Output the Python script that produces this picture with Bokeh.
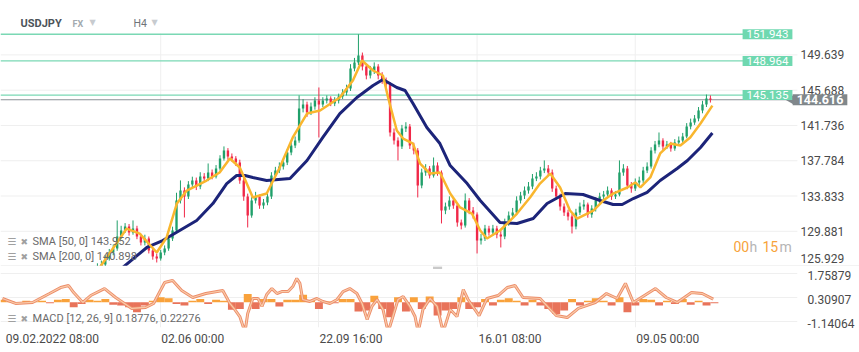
from bokeh.plotting import figure
from bokeh.layouts import column
from bokeh.models import Range1d, FixedTicker, Label, Span
from bokeh.embed import file_html
from bokeh.resources import INLINE
from bokeh.core.properties import value
import numpy as np

FONT = "Roboto"
W = 859

# ---------------- data ----------------
first_open = 125.20
closes = [125.50,125.95,126.17,126.84,127.51,127.96,129.31,129.98,130.43,129.76,
          130.20,129.31,128.63,129.08,127.74,127.07,126.84,127.51,127.96,129.08,
          129.98,133.34,134.46,133.79,135.13,135.58,134.91,136.02,135.80,136.47,
          136.02,136.92,138.04,138.94,138.26,138.04,137.59,135.58,133.79,131.66,
          133.34,133.79,132.78,133.11,133.79,136.14,136.70,137.14,137.59,138.71,
          139.50,140.06,143.64,144.09,143.19,143.86,144.54,144.09,144.54,144.76,
          144.20,144.54,144.98,145.43,145.88,148.12,148.79,149.58,148.34,147.33,
          147.90,148.34,147.33,146.77,146.33,140.95,140.06,139.39,141.40,141.62,
          139.50,138.94,135.02,136.47,136.92,136.14,137.26,136.47,132.22,132.66,
          133.34,132.78,130.87,130.54,133.34,132.22,131.77,128.86,129.08,130.20,
          129.76,130.20,129.53,129.31,130.87,131.66,131.99,133.34,133.90,134.46,
          134.91,135.80,136.02,136.70,136.92,136.47,134.68,133.79,132.66,131.99,
          131.54,130.43,131.99,132.66,132.89,131.77,132.44,133.34,133.79,134.01,
          134.46,133.79,134.01,136.47,136.92,135.02,134.68,135.35,135.58,136.70,
          137.14,138.94,139.61,140.06,139.39,139.61,139.16,139.83,140.06,140.50,
          141.62,142.07,142.52,143.42,144.09,144.76,144.616]
highs = [125.80,126.30,126.60,127.20,127.90,128.40,131.10,130.50,130.80,130.70,
         131.10,130.50,129.60,129.50,129.30,128.00,127.40,127.80,128.30,129.40,
         130.40,134.20,135.58,134.80,135.50,136.00,135.90,136.50,136.40,137.48,
         136.80,137.30,138.40,139.39,139.20,138.60,138.30,137.90,135.90,134.10,
         133.70,134.30,134.00,133.50,134.20,136.50,137.10,137.60,138.00,139.10,
         139.90,140.50,145.10,144.70,144.40,144.30,144.90,145.99,144.90,145.10,
         145.00,144.90,145.30,145.80,146.30,148.60,149.30,151.94,149.90,148.70,
         148.40,148.80,148.60,147.70,147.10,146.60,141.40,140.40,141.80,142.10,
         141.90,139.80,139.20,136.90,137.40,137.20,138.15,137.60,136.70,133.10,
         133.80,133.70,133.00,131.20,134.12,133.60,132.60,132.00,129.60,130.60,
         130.50,130.60,130.50,129.90,131.30,132.10,132.50,133.80,134.30,134.90,
         135.40,136.30,136.50,137.10,137.82,137.30,136.80,135.00,134.10,133.00,
         132.30,131.80,132.40,133.10,133.40,133.10,132.80,133.70,134.20,134.40,
         134.90,134.70,134.40,137.82,137.40,137.20,135.40,135.80,136.00,137.10,
         137.60,139.30,140.00,140.95,140.30,140.00,139.90,140.20,140.50,140.90,
         142.00,142.50,142.90,143.80,144.50,145.20,145.10]
lows = [124.90,125.30,125.70,125.90,126.60,127.20,127.70,129.00,129.70,129.40,
        129.50,129.00,128.30,128.30,127.40,126.70,126.39,126.60,127.20,127.70,
        128.80,129.70,133.00,131.43,133.50,134.80,134.50,134.60,135.40,135.50,
        135.70,135.80,136.70,137.80,137.90,137.70,137.20,135.20,133.30,130.31,
        131.40,133.00,132.40,132.40,132.80,133.50,135.80,136.40,136.80,137.30,
        138.40,139.20,139.80,143.20,142.70,142.90,143.50,140.39,143.80,144.20,
        143.90,143.90,144.20,144.70,145.10,145.60,147.80,148.50,147.90,146.90,
        147.00,147.50,146.90,146.40,145.90,140.50,139.60,137.82,139.10,141.00,
        139.10,138.50,133.67,134.70,136.10,135.80,135.90,136.10,130.76,131.80,
        132.30,132.40,130.40,130.10,130.30,131.80,131.30,127.40,128.40,128.80,
        129.40,129.40,129.10,128.07,129.00,130.50,131.30,131.70,133.00,133.50,
        134.10,134.60,135.50,135.70,136.40,136.10,134.30,133.40,132.20,131.60,
        131.10,129.64,130.10,131.70,132.30,131.40,131.40,132.10,133.00,133.50,
        133.70,133.40,133.50,133.80,136.10,134.60,134.20,134.40,135.00,135.30,
        136.40,136.90,138.60,139.30,139.00,139.10,138.80,138.90,139.60,139.80,
        140.30,141.30,141.80,142.20,143.10,143.80,144.30]

sma50_bar = [24.6,31.4,34.7,39.0,41.5,44.1,46.6,51.6,54.9,57.5,
             60.0,63.3,66.8,70.1,73.4,77.0,80.3,85.3,88.6,90.9,
             93.7,96.2,97.5,99.7,101.3,103.8,105.6,108.1,110.6,113.2,
             115.7,118.7,120.8,122.5,125.8,127.6,130.1,133.4,135.9,138.5,
             141.0,143.5,145.3,149.4,151.9,154.4,158.0,160.0,161.3,163.8,
             166.3,168.9,171.4,173.9,176.5,179.5]
sma50_val = [125.83,130.19,129.63,127.51,129.19,133.00,134.45,135.57,136.47,138.03,
             137.03,133.67,134.11,137.03,140.39,143.07,143.41,144.87,146.77,149.01,
             147.89,147.33,144.87,141.17,140.27,139.71,137.47,136.35,136.47,134.11,
             132.55,131.87,129.97,129.07,129.97,130.75,131.87,133.67,135.23,136.35,
             134.79,132.21,131.31,132.21,133.33,134.11,134.79,135.35,134.79,135.91,
             138.60,139.71,139.49,140.39,141.95,143.952]
sma200_bar = [30.4,36.5,40.5,44.8,49.1,53.2,56.7,59.2,61.3,63.3,
              66.8,72.7,77.0,81.0,85.3,89.6,93.7,96.2,99.7,101.8,
              103.8,107.3,110.6,113.2,117.5,120.8,125.8,130.1,134.2,137.7,
              142.3,146.8,151.1,154.4,156.7,159.5,163.0,166.3,170.6,173.2,
              176.5,179.5]
sma200_val = [125.83,128.07,128.85,129.97,131.09,132.99,135.23,136.13,136.13,135.91,
              135.57,135.79,137.81,140.39,143.07,144.87,146.21,146.88,145.99,145.65,
              144.19,141.51,139.71,137.25,135.23,133.33,130.87,130.75,131.31,132.99,
              134.11,134.00,133.33,132.88,132.88,133.55,134.23,135.57,136.91,137.81,
              139.27,140.898]

macd_bar = [0,3.3,7.6,11.9,14.7,16.7,18.0,20.3,22.3,25.8,
            28.6,32.7,36.2,38.2,41.0,43.0,45.3,48.1,51.4,55.7,
            57.5,58.7,60.0,61.3,62.0,63.3,64.6,65.6,66.8,68.1,
            69.4,70.6,72.2,73.4,74.4,75.2,75.9,77.7,79.5,81.0,
            82.8,84.6,86.1,87.8,89.6,90.9,92.2,93.4,94.7,96.2,
            97.5,98.7,100.0,101.3,103.0,104.3,105.1,106.3,108.1,109.9,
            111.4,113.2,114.9,116.5,117.7,120.5,122.5,125.3,127.6,129.6,
            131.6,135.9,140.0,142.8,145.6,149.9,152.7,155.4,157.5,159.5,
            162.3,165.1,167.8,170.6,174.2,176.9,179.7]
macd_val = [0.23,-0.07,-0.01,0.53,0.89,1.01,0.59,-0.01,0.41,0.83,
            0.29,-0.37,-0.31,-0.07,1.20,1.32,0.71,0.29,0.53,0.71,
            -0.07,-0.43,-0.86,-1.80,-0.68,0.23,0.23,-0.25,0.47,0.83,
            0.53,0.65,0.65,0.95,1.44,1.14,0.17,0.05,0.23,0.05,
            -0.07,0.17,0.65,0.83,0.53,-0.07,-1.04,-0.25,0.17,-0.43,
            -1.80,-0.86,0.17,0.35,-0.25,-0.86,-1.80,-0.43,0.23,-0.25,
            -1.80,-0.43,-0.86,0.77,0.17,-0.80,0.23,0.41,0.89,1.01,
            0.29,0.23,-0.80,-0.92,-0.37,-0.01,0.53,0.23,1.14,-0.01,
            0.41,0.83,0.29,-0.01,0.59,0.53,0.18776]
hist_val = [0.15,0.05,-0.10,0.10,0.05,0.10,-0.05,0.15,0.20,-0.30,
            -0.10,0.15,0.10,0.20,-0.15,-0.20,-0.30,-0.60,-0.20,0.10,
            0.30,0.25,-0.10,-0.20,0.10,0.20,-0.10,0.15,0.10,-0.45,
            -0.40,0.50,-0.40,0.20,0.20,-0.25,0.15,0.15,0.45,0.10,
            -0.40,0.05,-0.05,0.20,0.20,-0.55,-0.50,0.40,-0.40,-0.90,
            0.30,-0.55,0.30,-0.40,0.35,-0.80,-0.50,-0.40,0.30,-0.40,
            -0.30,0.20,-0.20,0.15,0.25,0.10,-0.20,0.15,-0.20,-0.40,
            -0.70,-0.50,0.20,-0.20,0.10,0.25,0.10,-0.20,0.30,-0.60,
            -0.20,0.20,0.15,-0.20,0.10,-0.10,0.20,-0.15,0.10,-0.20,
            -0.05]

levels = [151.943, 148.964, 145.135]
last_price = 144.616
price_ticks = [125.929, 129.881, 133.833, 137.784, 141.736, 145.688, 149.639]
macd_ticks = [-1.14064, 0.30907, 1.75879]
date_labels = ["09.02.2022 08:00", "02.06 00:00", "22.09 16:00", "16.01 08:00", "09.05 00:00"]
date_label_pos = [12.6, 48.1, 88.1, 128.3, 168.2]
date_grid = [40, 80, 120, 160]

# ---------------- derived ----------------
start_bar = 23
bars = np.arange(start_bar, start_bar + len(closes))
opens = [first_open] + closes[:-1]
UP, DN = "#20a06a", "#f02848"
ccol = [UP if c >= o else DN for o, c in zip(opens, closes)]
btop = [max(o, c) for o, c in zip(opens, closes)]
bbot = [min(o, c) for o, c in zip(opens, closes)]
hist_bar = list(range(0, 2 * len(hist_val), 2))
hcol = ["#f9a23b" if v >= 0 else "#e8735a" for v in hist_val]

GRID = "#efefef"
X0 = -0.506          # left edge of the chart, in bars
PLOT_END = 201.0      # right edge of the price area (before the scale labels)
LAB_X = 201.8         # where the right-hand price labels start
PRICE_BOTTOM, PRICE_TOP = 125.94, 152.03

# ---------------- main price panel (header + prices + scale) ----------------
p = figure(width=W, height=266, x_range=Range1d(X0, 216.7), y_range=Range1d(PRICE_BOTTOM, 155.73),
           toolbar_location=None, output_backend="svg", min_border=0,
           x_axis_location=None, y_axis_location=None, frame_align=False)
p.outline_line_color = None
p.grid.visible = False

# grid lines limited to the price area
p.segment(x0=[X0] * len(price_ticks), x1=[PLOT_END] * len(price_ticks),
          y0=price_ticks, y1=price_ticks, line_color=GRID, line_width=1)
p.segment(x0=date_grid, x1=date_grid, y0=[PRICE_BOTTOM] * len(date_grid),
          y1=[PRICE_TOP] * len(date_grid), line_color=GRID, line_width=1)

# right price scale labels
lab_pos = [126.78] + price_ticks[1:]
p.text(x=[LAB_X] * len(price_ticks), y=lab_pos, text=[f"{t:.3f}" for t in price_ticks],
       text_font=value(FONT), text_font_size="12px", text_color="#4a4a4a",
       text_baseline="middle", text_align="left")

# levels and current price
p.segment(x0=[X0] * len(levels), x1=[187.4] * len(levels), y0=levels, y1=levels,
          line_color="#7ad8b4", line_width=1.4)
p.segment(x0=[X0], x1=[199.5], y0=[last_price], y1=[last_price],
          line_color="#8b9196", line_width=1.2)

# candles + moving averages
p.segment(x0=bars, x1=bars, y0=lows, y1=highs, line_color=ccol, line_width=1)
p.vbar(x=bars, width=0.6, top=btop, bottom=bbot, fill_color=ccol, line_color=None)
p.line(sma200_bar, sma200_val, line_color="#1c2479", line_width=3)
p.line(sma50_bar, sma50_val, line_color="#f9b62e", line_width=2.5)

# separator to the MACD panel
p.add_layout(Span(location=125.97, dimension="width", line_color="#d4d4d4", line_width=1))

# price tags
for lv in levels:
    p.add_layout(Label(x=767, y=lv, x_units="screen", y_units="data", text=f"{lv:.3f}",
                       text_align="center", text_baseline="middle", text_color="white",
                       text_font=FONT, text_font_size="11.5px",
                       background_fill_color="#6fd8b0", padding=(4, 1)))
p.scatter(x=[199.3], y=[last_price], marker="triangle", angle=np.pi / 2, size=9,
          fill_color="#80878b", line_color=None)
p.add_layout(Label(x=819.5, y=last_price, x_units="screen", y_units="data",
                   text=f"{last_price:.3f}", text_align="center", text_baseline="middle",
                   text_color="white", text_font=FONT, text_font_size="12.5px",
                   text_font_style="bold", background_fill_color="#80878b", padding=(4, 1)))

# header
HY = 243
p.add_layout(Label(x=20, y=HY, x_units="screen", y_units="screen", text="USDJPY",
                   text_font=FONT, text_font_size="11px", text_font_style="bold",
                   text_color="#4c5359", text_baseline="middle"))
p.add_layout(Label(x=72, y=HY, x_units="screen", y_units="screen", text="FX",
                   text_font=FONT, text_font_size="9px", text_font_style="bold",
                   text_color="#a3aab0", text_baseline="middle"))
p.add_layout(Label(x=133, y=HY, x_units="screen", y_units="screen", text="H4",
                   text_font=FONT, text_font_size="10.5px", text_color="#6f7478",
                   text_baseline="middle"))
for xx in (89, 151):
    p.add_layout(Label(x=xx, y=HY + 1, x_units="screen", y_units="screen", text="\u25bc",
                       text_font="DejaVu Sans", text_font_size="8px", text_color="#c7cbcf",
                       text_baseline="middle"))

# SMA legend
for txt, yy in [("SMA [50, 0] 143.952", 25), ("SMA [200, 0] 140.898", 10)]:
    p.add_layout(Label(x=7, y=yy, x_units="screen", y_units="screen", text="\u2630",
                       text_font="DejaVu Sans", text_font_size="10px", text_color="#a0a0a0",
                       text_baseline="middle"))
    p.add_layout(Label(x=20, y=yy, x_units="screen", y_units="screen", text="\u2716",
                       text_font="DejaVu Sans", text_font_size="9px", text_color="#a0a0a0",
                       text_baseline="middle"))
    p.add_layout(Label(x=32, y=yy, x_units="screen", y_units="screen", text=txt,
                       text_font=FONT, text_font_size="11px", text_color="#6a6a6a",
                       text_baseline="middle"))

# countdown
for txt, xx, col in [("00", 733, "#f7a33b"), ("h", 749, "#b5b5b5"),
                     ("15", 762, "#f7a33b"), ("m", 779, "#b5b5b5")]:
    p.add_layout(Label(x=xx, y=20, x_units="screen", y_units="screen", text=txt,
                       text_font=FONT, text_font_size="14px", text_color=col,
                       text_baseline="middle"))

# ---------------- MACD panel ----------------
m = figure(width=W, height=86, x_range=Range1d(X0, PLOT_END), y_range=Range1d(-1.522, 2.162),
           toolbar_location=None, output_backend="svg", y_axis_location="right",
           min_border_left=0, min_border_right=62, min_border_top=0, min_border_bottom=25,
           frame_align=False)
m.outline_line_color = None
m.ygrid.ticker = FixedTicker(ticks=macd_ticks)
m.xgrid.ticker = FixedTicker(ticks=date_grid)
m.grid.grid_line_color = GRID
macd_lab_pos = [t - 0.12 for t in macd_ticks]
m.yaxis.ticker = FixedTicker(ticks=macd_lab_pos)
m.yaxis.major_label_overrides = {pos: f"{t:.5f}" for pos, t in zip(macd_lab_pos, macd_ticks)}
m.xaxis.ticker = FixedTicker(ticks=date_label_pos)
m.xaxis.major_label_overrides = dict(zip(date_label_pos, date_labels))
for ax in list(m.yaxis) + list(m.xaxis):
    ax.axis_line_color = None
    ax.major_tick_line_color = None
    ax.minor_tick_line_color = None
    ax.major_label_text_font = FONT
    ax.major_label_text_font_size = "12px"
    ax.major_label_text_color = "#4a4a4a"
for ax in m.yaxis:
    ax.major_label_standoff = 4
for ax in m.xaxis:
    ax.major_tick_out = 0
    ax.major_label_standoff = 4

m.vbar(x=hist_bar, width=2.0, top=hist_val, bottom=0, fill_color=hcol, line_color=None)
m.line(macd_bar, macd_val, line_color="#ec8c69", line_width=3)
m.line(macd_bar, macd_val, line_color="#f9cba9", line_width=1.2)
m.rect(x=[110.0], y=[2.09], width=2.3, height=0.17, fill_color="#c9c9c9", line_color=None)

m.add_layout(Label(x=7, y=9, x_units="screen", y_units="screen", text="\u2630",
                   text_font="DejaVu Sans", text_font_size="10px", text_color="#a0a0a0",
                   text_baseline="middle"))
m.add_layout(Label(x=20, y=9, x_units="screen", y_units="screen", text="\u2716",
                   text_font="DejaVu Sans", text_font_size="9px", text_color="#a0a0a0",
                   text_baseline="middle"))
m.add_layout(Label(x=32, y=9, x_units="screen", y_units="screen",
                   text="MACD [12, 26, 9] 0.18776, 0.22276",
                   text_font=FONT, text_font_size="11px", text_color="#6a6a6a",
                   text_baseline="middle"))

layout = column(p, m, spacing=0)
open("out.html", "w").write(file_html(layout, INLINE))
